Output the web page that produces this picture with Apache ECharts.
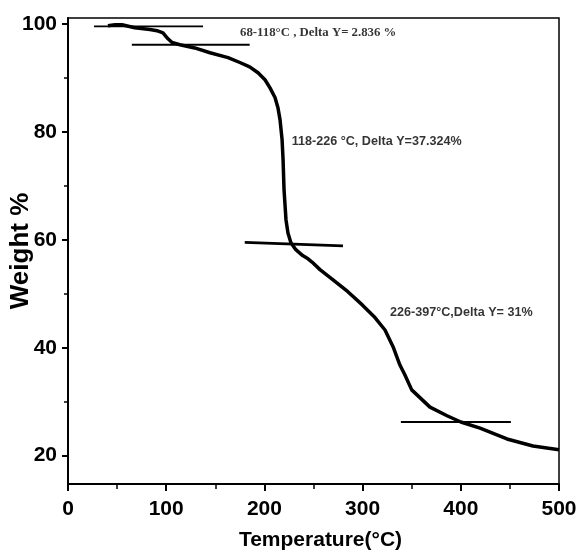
<!DOCTYPE html>
<html>
<head>
<meta charset="UTF-8">
<script src="https://cdn.jsdelivr.net/npm/echarts@6/dist/echarts.min.js"></script>
<style>
  html, body { margin: 0; padding: 0; background: #fff; }
  #chart { width: 576px; height: 552px; }
</style>
</head>
<body>
<div id="chart"></div>
<script>
// TGA curve
var temperature = [40.7, 47.9, 55, 68, 83.5, 90.6, 96.7, 101.8, 106, 114, 129, 144.6, 163, 175, 185,
  193.5, 200.6, 205.7, 210.8, 213.8, 215.9, 218, 219, 220, 222, 224, 227, 232, 239, 244.4, 246.4,
  248.5, 256.6, 269.9, 285, 299.4, 312.6, 322.8, 331, 338, 343, 350, 368.6, 386, 400, 419.6, 447,
  473.5, 500];
var weight = [99.7, 99.9, 99.9, 99.35, 99.0, 98.8, 98.4, 97.3, 96.6, 96.2, 95.6, 94.7, 93.8, 92.9, 92.1,
  91.0, 89.7, 88.2, 86.4, 84.5, 82.3, 78.6, 74.9, 69.3, 63.7, 61.3, 59.5, 58.2, 57.1, 56.5, 56.7,
  55.9, 54.5, 52.6, 50.4, 48.0, 45.6, 43.3, 40.2, 36.8, 35.0, 32.2, 29.0, 27.4, 26.25, 25.1, 23.1,
  21.8, 21.1];

// tangent lines drawn on the figure
var tangentTop = [[26.5, 99.6], [137.5, 99.6]];
var tangentStep1 = [[65, 96.2], [185, 96.2]];
var tangentStep2 = [[180, 59.55], [280, 58.9]];
var tangentStep3 = [[339, 26.25], [451, 26.25]];

// annotations: anchor (left, middle of text)
var annoText = ['68-118°C , Delta Y= 2.836 %', '118-226 °C, Delta Y=37.324%', '226-397°C,Delta Y= 31%'];
var annoX = [175.2, 227.8, 327.9];
var annoY = [98.37, 78.26, 46.48];

var yMajor = [20, 40, 60, 80, 100];
var yMinor = [30, 50, 70, 90];

var sans = "'Liberation Sans', Arial, sans-serif";
var chart = echarts.init(document.getElementById('chart'));

var curve = temperature.map(function (t, i) { return [t, weight[i]]; });
function tangent(d, w) {
  return {
    type: 'line', data: d, showSymbol: false, silent: true,
    lineStyle: { color: '#000', width: w }, z: 2
  };
}

var annoData = annoText.map(function (s, i) {
  return {
    value: [annoX[i], annoY[i]],
    name: s,
    label: i === 0 ? {
      color: '#000', fontFamily: "'Liberation Serif', serif", fontSize: 12.8, fontWeight: 'bold'
    } : {
      color: '#000', fontFamily: sans, fontSize: 12.6, fontWeight: 'bold'
    }
  };
});

var option = {
  animation: false,
  backgroundColor: '#fff',
  grid: {
    left: 68, right: 17, top: 18, bottom: 68,
    outerBoundsMode: 'none', containLabel: false,
    show: true, borderColor: '#000', borderWidth: 1.5
  },
  xAxis: {
    type: 'value', min: 0, max: 500, interval: 100,
    name: 'Temperature(°C)', nameLocation: 'middle', nameGap: 46, nameMoveOverlap: false,
    nameTextStyle: { fontFamily: sans, fontSize: 21, fontWeight: 'bold', color: '#000', padding: [0, 0, 0, 14] },
    axisLine: { lineStyle: { color: '#000', width: 2 } },
    axisTick: { length: 7, lineStyle: { color: '#000', width: 2 } },
    minorTick: { show: true, splitNumber: 2, length: 5, lineStyle: { color: '#000', width: 1.5 } },
    axisLabel: { fontFamily: sans, fontSize: 21, fontWeight: 'bold', color: '#000', margin: 15 },
    splitLine: { show: false }
  },
  yAxis: [{
    type: 'value', min: 14.75, max: 101.15,
    name: 'Weight %', nameLocation: 'middle', nameGap: 34, nameRotate: 90, nameMoveOverlap: false,
    nameTextStyle: { fontFamily: sans, fontSize: 26, fontWeight: 'bold', color: '#000' },
    axisLine: { lineStyle: { color: '#000', width: 2 } },
    axisTick: { customValues: yMajor, length: 6, lineStyle: { color: '#000', width: 2 } },
    axisLabel: { customValues: yMajor, fontFamily: sans, fontSize: 21, fontWeight: 'bold', color: '#000', margin: 11 },
    splitLine: { show: false }
  }, {
    type: 'value', min: 14.75, max: 101.15, position: 'left',
    axisLine: { show: false },
    axisTick: { customValues: yMinor, length: 4, lineStyle: { color: '#000', width: 1.5 } },
    axisLabel: { show: false },
    splitLine: { show: false }
  }],
  series: [
    {
      type: 'line', data: curve, showSymbol: false, smooth: false,
      lineStyle: { color: '#000', width: 3.5 }, z: 3
    },
    tangent(tangentTop, 1.8),
    tangent(tangentStep1, 2),
    tangent(tangentStep2, 2.6),
    tangent(tangentStep3, 2),
    {
      type: 'scatter', data: annoData, symbolSize: 0, silent: true,
      label: {
        show: true, position: 'right', distance: 0, color: '#000',
        formatter: function (p) { return p.name; }
      },
      z: 5
    }
  ]
};
chart.setOption(option);
</script>
</body>
</html>
